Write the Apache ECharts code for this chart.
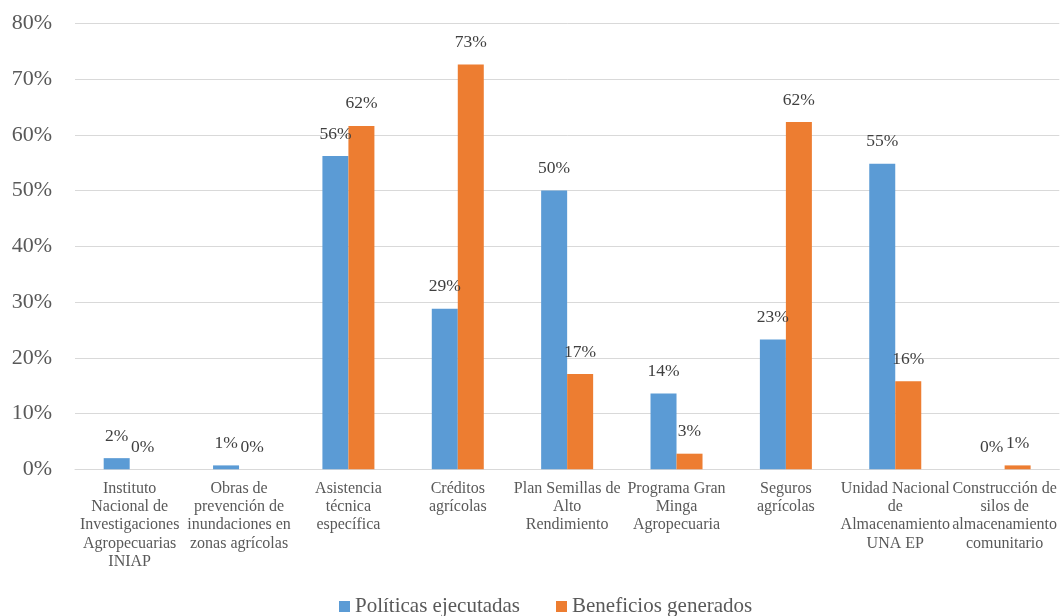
<!DOCTYPE html>
<html>
<head>
<meta charset="utf-8">
<title>Políticas ejecutadas y beneficios generados</title>
<script src="https://cdn.jsdelivr.net/npm/echarts@6/dist/echarts.min.js"></script>
<style>
  html, body { margin: 0; padding: 0; background: #ffffff; }
  #chart { width: 1060px; height: 616px; }
</style>
</head>
<body>
<div id="chart"></div>
<script>
// Program names (line breaks as printed under each group)
const categories = [
  'Instituto\nNacional de\nInvestigaciones\nAgropecuarias\nINIAP',
  'Obras de\nprevención de\ninundaciones en\nzonas agrícolas',
  'Asistencia\ntécnica\nespecífica',
  'Créditos\nagrícolas',
  'Plan Semillas de\nAlto\nRendimiento',
  'Programa Gran\nMinga\nAgropecuaria',
  'Seguros\nagrícolas',
  'Unidad Nacional\nde\nAlmacenamiento\nUNA EP',
  'Construcción de\nsilos de\nalmacenamiento\ncomunitario'
];

// Share of respondents, in percent
const politicasEjecutadas = [2.0, 0.7, 56.2, 28.8, 50.0, 13.6, 23.3, 54.8, 0];
const beneficiosGenerados = [0, 0, 61.6, 72.6, 17.1, 2.8, 62.3, 15.8, 0.7];

const seriesNames = ['Políticas ejecutadas', 'Beneficios generados'];

// Value axis ticks (percent)
const yMin = 0;
const yMax = 80;
const yStep = 10;

const FONT = '"Liberation Serif", "Times New Roman", serif';
const BLUE = '#5B9BD5';
const ORANGE = '#ED7D31';

const chart = echarts.init(document.getElementById('chart'), null, { renderer: 'canvas' });

const valueLabel = {
  show: true,
  position: 'top',
  distance: 13,
  color: '#404040',
  fontFamily: FONT,
  fontSize: 17.5,
  formatter: p => Math.round(p.value) + '%'
};

chart.setOption({
  animation: false,
  backgroundColor: '#ffffff',
  textStyle: { fontFamily: FONT },
  grid: { left: 75, right: 0, top: 23.3, bottom: 146.7, containLabel: false },
  legend: {
    data: seriesNames,
    left: 339,
    top: 596,
    padding: 0,
    itemWidth: 11,
    itemHeight: 11,
    itemGap: 36,
    icon: 'rect',
    textStyle: { color: '#595959', fontFamily: FONT, fontSize: 21, lineHeight: 20 }
  },
  xAxis: {
    type: 'category',
    data: categories,
    axisLine: { show: true, lineStyle: { color: '#D9D9D9', width: 1 } },
    axisTick: { show: false },
    axisLabel: {
      interval: 0,
      margin: 10,
      color: '#595959',
      fontFamily: FONT,
      fontSize: 16,
      lineHeight: 18.3,
      align: 'center',
      verticalAlign: 'top'
    }
  },
  yAxis: {
    type: 'value',
    min: yMin,
    max: yMax,
    interval: yStep,
    axisLine: { show: false },
    axisTick: { show: false },
    splitLine: { lineStyle: { color: '#D9D9D9', width: 1 } },
    axisLabel: {
      margin: 23,
      color: '#595959',
      fontFamily: FONT,
      fontSize: 22,
      formatter: '{value}%'
    }
  },
  series: [
    {
      name: seriesNames[0],
      type: 'bar',
      data: politicasEjecutadas,
      barWidth: 26,
      barGap: '0%',
      itemStyle: { color: BLUE },
      label: valueLabel
    },
    {
      name: seriesNames[1],
      type: 'bar',
      data: beneficiosGenerados,
      barWidth: 26,
      barGap: '0%',
      itemStyle: { color: ORANGE },
      label: valueLabel
    }
  ]
});
</script>
</body>
</html>
